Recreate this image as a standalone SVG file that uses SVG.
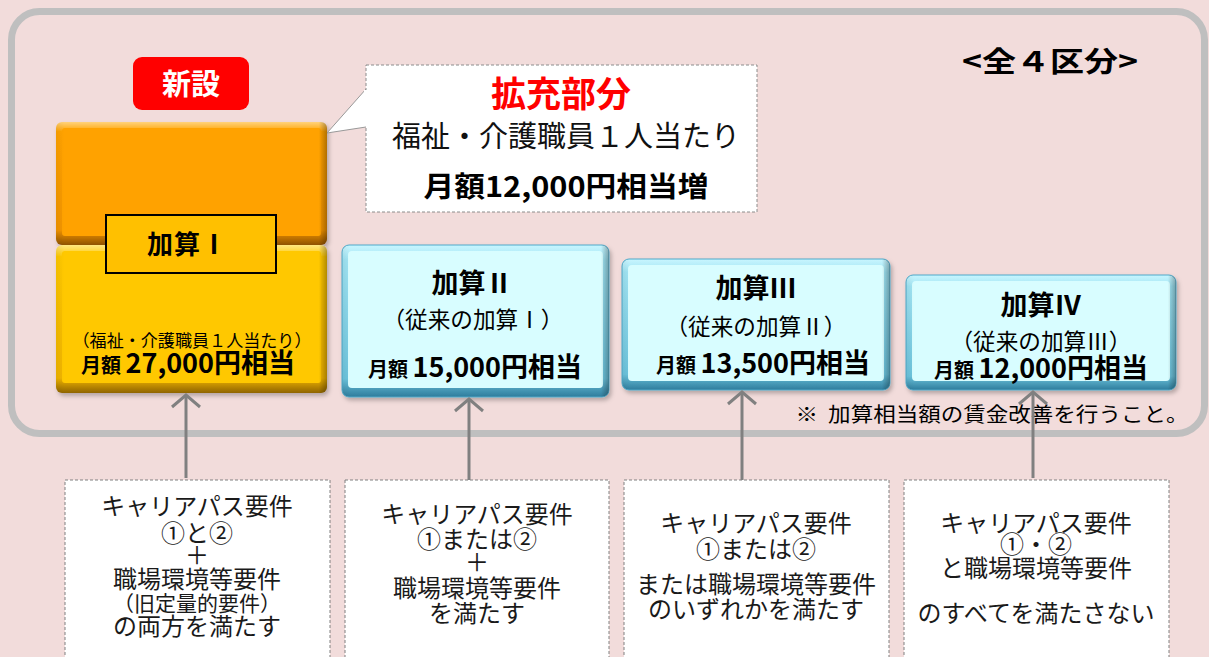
<svg xmlns="http://www.w3.org/2000/svg" width="1209" height="657" viewBox="0 0 1209 657">
<style>
.t{font-family:"Noto Sans CJK JP","Noto Sans CJK SC",sans-serif;fill:#000;text-anchor:middle}
.b{font-weight:bold}
.req{font-size:24px;fill:#1a1a1a}
.reqbox{fill:#fff;stroke:#808080;stroke-width:1;stroke-dasharray:3 2}
.conn{stroke:#808080;stroke-width:3;fill:none}
</style>
<defs>
<linearGradient id="gOr" x1="0" y1="0" x2="0" y2="1">
<stop offset="0" stop-color="#FFD27A"/><stop offset="0.08" stop-color="#FFA200"/><stop offset="0.88" stop-color="#F29400"/><stop offset="1" stop-color="#8F5200"/>
</linearGradient>
<linearGradient id="gYe" x1="0" y1="0" x2="0" y2="1">
<stop offset="0" stop-color="#FFE680"/><stop offset="0.08" stop-color="#FFC800"/><stop offset="0.9" stop-color="#F0B400"/><stop offset="1" stop-color="#8F6400"/>
</linearGradient>
<linearGradient id="gBl" x1="0" y1="0" x2="0" y2="1">
<stop offset="0" stop-color="#C9F6FF"/><stop offset="0.1" stop-color="#9FE3F2"/><stop offset="0.88" stop-color="#6CC3DC"/><stop offset="1" stop-color="#2E7C9C"/>
</linearGradient>
<linearGradient id="gSide" x1="0" y1="0" x2="1" y2="0">
<stop offset="0" stop-color="#000" stop-opacity="0.05"/><stop offset="0.03" stop-color="#000" stop-opacity="0"/><stop offset="0.97" stop-color="#000" stop-opacity="0"/><stop offset="1" stop-color="#000" stop-opacity="0.3"/>
</linearGradient>
<filter id="sh" x="-10%" y="-10%" width="120%" height="130%">
<feDropShadow dx="2" dy="3" stdDeviation="2" flood-color="#000" flood-opacity="0.25"/>
</filter>
<marker id="arr" markerUnits="userSpaceOnUse" markerWidth="34" markerHeight="34" viewBox="-17 -17 34 34" refX="0" refY="0" orient="auto" overflow="visible">
<path d="M-12,-14 L0,0 L-12,14" fill="none" stroke="#808080" stroke-width="3"/>
</marker>
</defs>

<rect x="0" y="0" width="1209" height="657" fill="#F2DCDB"/>
<rect id="frame" x="11.5" y="11.5" width="1193" height="422" rx="28" fill="none" stroke="#BFBFBF" stroke-width="7"/>

<g id="title">
<text class="t b" x="1050" y="72" font-size="28" textLength="176" lengthAdjust="spacingAndGlyphs">&lt;全４区分&gt;</text>
</g>

<g id="badge-new">
<rect x="133" y="57" width="116" height="53" rx="9" fill="#FF0000"/>
<text class="t b" x="191" y="95" font-size="29" style="fill:#fff">新設</text>
</g>

<g id="kasan1" filter="url(#sh)">
<rect x="56" y="122" width="271" height="123" rx="6" fill="url(#gOr)"/>
<rect x="62" y="128" width="259" height="108" rx="3" fill="#FFA200"/>
<rect x="56" y="122" width="271" height="123" rx="6" fill="url(#gSide)"/>
<rect x="56" y="245" width="271" height="148" rx="6" fill="url(#gYe)"/>
<rect x="62" y="251" width="259" height="132" rx="3" fill="#FFC800"/>
<rect x="56" y="245" width="271" height="148" rx="6" fill="url(#gSide)"/>
</g>
<g id="kasan1-label">
<rect x="106" y="215" width="170" height="58" fill="#FFC000" stroke="#000" stroke-width="2"/>
<text class="t b" x="187" y="254" font-size="26" textLength="80" lengthAdjust="spacing">加算Ⅰ</text>
<text class="t" x="192" y="347" font-size="17" textLength="239" lengthAdjust="spacingAndGlyphs">（福祉・介護職員１人当たり）</text>
<text class="t b" x="188" y="373"><tspan font-size="20">月額 </tspan><tspan font-size="27">27,000円相当</tspan></text>
</g>

<g id="callout">
<path d="M366,89 L327,133 L366,127" fill="#fff" stroke="#999" stroke-width="1"/>
<rect x="366" y="65" width="391" height="147" fill="#fff" stroke="#8c8c8c" stroke-width="1" stroke-dasharray="3 2"/>
<rect x="364" y="90" width="4" height="36" fill="#fff"/>
<text class="t b" x="561" y="107" font-size="35" style="fill:#FF0000">拡充部分</text>
<text class="t" x="566" y="147" font-size="29" textLength="348" lengthAdjust="spacingAndGlyphs" style="fill:#111">福祉・介護職員１人当たり</text>
<text class="t b" x="566" y="197" font-size="28" textLength="285" lengthAdjust="spacingAndGlyphs">月額12,000円相当増</text>
</g>

<g id="kasan2" filter="url(#sh)">
<rect x="342" y="245" width="267" height="152" rx="7" fill="url(#gBl)" stroke="#4FA9C9" stroke-width="1"/>
<rect x="348" y="251" width="255" height="137" rx="4" fill="#D8FDFF"/>
<rect x="342" y="245" width="267" height="152" rx="7" fill="url(#gSide)"/>
</g>
<g id="kasan2-text">
<text class="t b" x="472" y="293" font-size="27">加算Ⅱ</text>
<text class="t" x="473" y="328" font-size="22.5" textLength="181" lengthAdjust="spacingAndGlyphs">（従来の加算Ⅰ）</text>
<text class="t b" x="475" y="377"><tspan font-size="20">月額 </tspan><tspan font-size="27">15,000円相当</tspan></text>
</g>

<g id="kasan3" filter="url(#sh)">
<rect x="622" y="259" width="268" height="131" rx="7" fill="url(#gBl)" stroke="#4FA9C9" stroke-width="1"/>
<rect x="628" y="265" width="256" height="116" rx="4" fill="#D8FDFF"/>
<rect x="622" y="259" width="268" height="131" rx="7" fill="url(#gSide)"/>
</g>
<g id="kasan3-text">
<text class="t b" x="756" y="298" font-size="27">加算Ⅲ</text>
<text class="t" x="756" y="335" font-size="22.5" textLength="181" lengthAdjust="spacingAndGlyphs">（従来の加算Ⅱ）</text>
<text class="t b" x="763" y="373"><tspan font-size="20">月額 </tspan><tspan font-size="27">13,500円相当</tspan></text>
</g>

<g id="kasan4" filter="url(#sh)">
<rect x="906" y="275" width="270" height="115" rx="7" fill="url(#gBl)" stroke="#4FA9C9" stroke-width="1"/>
<rect x="912" y="281" width="258" height="100" rx="4" fill="#D8FDFF"/>
<rect x="906" y="275" width="270" height="115" rx="7" fill="url(#gSide)"/>
</g>
<g id="kasan4-text">
<text class="t b" x="1041" y="315" font-size="27">加算Ⅳ</text>
<text class="t" x="1041" y="350" font-size="22.5" textLength="181" lengthAdjust="spacingAndGlyphs">（従来の加算Ⅲ）</text>
<text class="t b" x="1041" y="378"><tspan font-size="20">月額 </tspan><tspan font-size="27">12,000円相当</tspan></text>
</g>

<g id="note">
<text class="t" x="992" y="422" font-size="20" textLength="393" lengthAdjust="spacingAndGlyphs">※&#160;&#160;加算相当額の賃金改善を行うこと。</text>
</g>

<g id="connectors">
<line class="conn" x1="186" y1="478" x2="186" y2="395" marker-end="url(#arr)"/>
<line class="conn" x1="469" y1="480" x2="469" y2="399" marker-end="url(#arr)"/>
<line class="conn" x1="742" y1="480" x2="742" y2="392" marker-end="url(#arr)"/>
<line class="conn" x1="1033" y1="478" x2="1033" y2="392" marker-end="url(#arr)"/>
</g>

<g id="req1">
<rect class="reqbox" x="65" y="480" width="265" height="190"/>
<text class="t req" x="197" y="515">キャリアパス要件</text>
<text class="t req" x="197" y="542">①と②</text>
<text class="t req" x="197" y="564">＋</text>
<text class="t req" x="197" y="588">職場環境等要件</text>
<text class="t req" x="197" y="611" style="font-size:21px">（旧定量的要件）</text>
<text class="t req" x="197" y="635">の両方を満たす</text>
</g>
<g id="req2">
<rect class="reqbox" x="345" y="480" width="264" height="190"/>
<text class="t req" x="477" y="523">キャリアパス要件</text>
<text class="t req" x="477" y="548">①または②</text>
<text class="t req" x="477" y="571">＋</text>
<text class="t req" x="477" y="597">職場環境等要件</text>
<text class="t req" x="477" y="622">を満たす</text>
</g>
<g id="req3">
<rect class="reqbox" x="624" y="480" width="265" height="190"/>
<text class="t req" x="756" y="532">キャリアパス要件</text>
<text class="t req" x="756" y="558">①または②</text>
<text class="t req" x="756" y="593">または職場環境等要件</text>
<text class="t req" x="756" y="618">のいずれかを満たす</text>
</g>
<g id="req4">
<rect class="reqbox" x="904" y="480" width="265" height="190"/>
<text class="t req" x="1036" y="532">キャリアパス要件</text>
<text class="t req" x="1036" y="553">①・②</text>
<text class="t req" x="1036" y="577">と職場環境等要件</text>
<text class="t req" x="1036" y="622">のすべてを満たさない</text>
</g>
</svg>
